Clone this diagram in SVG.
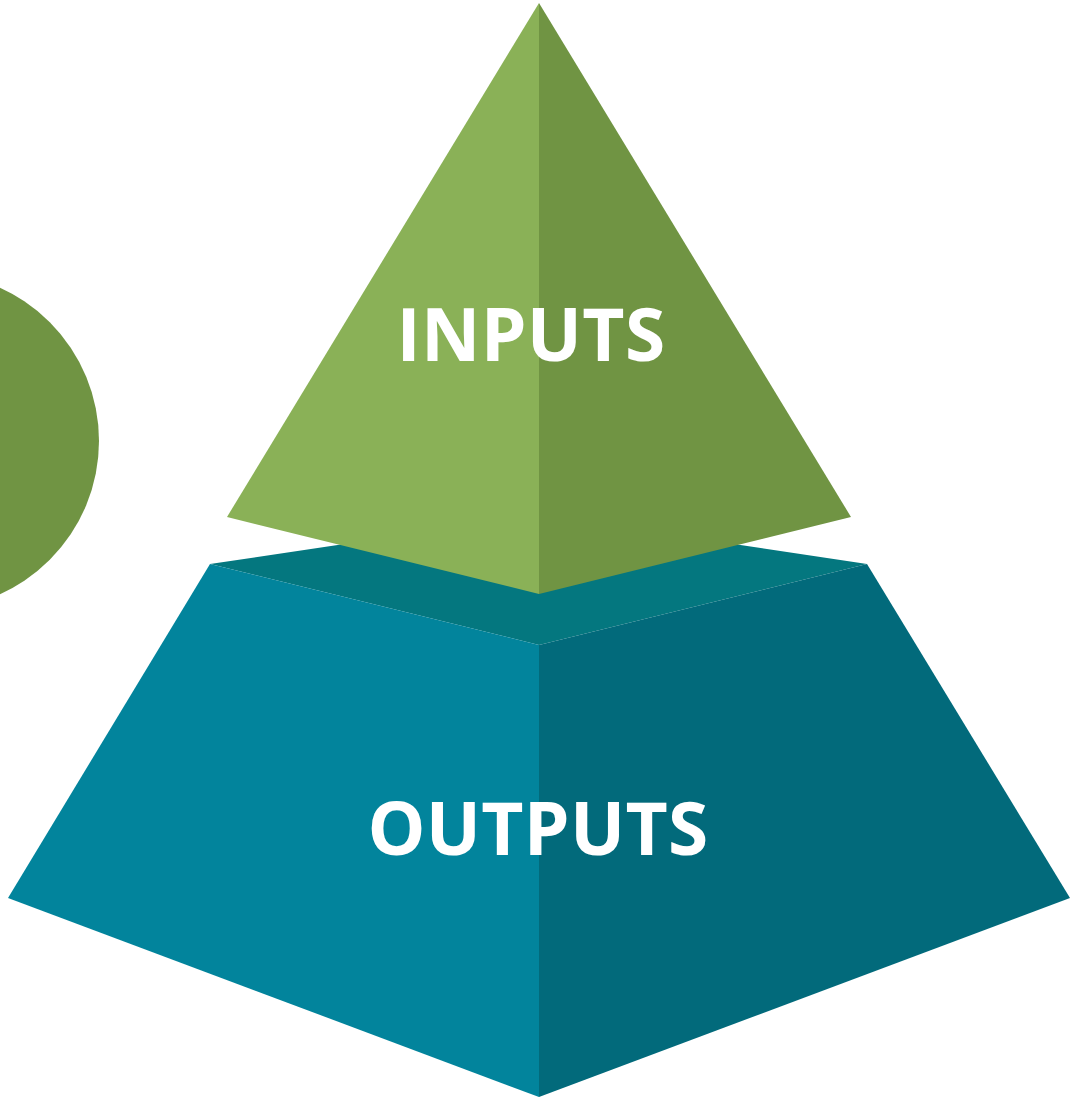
<svg xmlns="http://www.w3.org/2000/svg" width="1087" height="1101" viewBox="0 0 1087 1101">
<style>
.lbl{font-family:"Open Sans","Noto Sans","DejaVu Sans",sans-serif;font-weight:700;font-size:73px;fill:#ffffff;text-anchor:middle;letter-spacing:0.3px}
</style>
<rect width="1087" height="1101" fill="#ffffff"/>
<g id="circle">
<circle cx="-69" cy="441" r="168" fill="#709443"/>
</g>
<g id="outputs">
<polygon points="210,564 539,515 867,564 539,645" fill="#04777F"/>
<polygon points="210,564 539,645 539,1097 8,898" fill="#02849C"/>
<polygon points="539,645 867,564 1070,898 539,1097" fill="#026A7B"/>
<text class="lbl" x="538" y="855">OUTPUTS</text>
</g>
<g id="inputs">
<polygon points="539,3 227,517 539,594" fill="#8AB157"/>
<polygon points="539,3 851,517 539,594" fill="#709443"/>
<text class="lbl" x="531" y="361">INPUTS</text>
</g>
<g id="connectors"></g>
</svg>
